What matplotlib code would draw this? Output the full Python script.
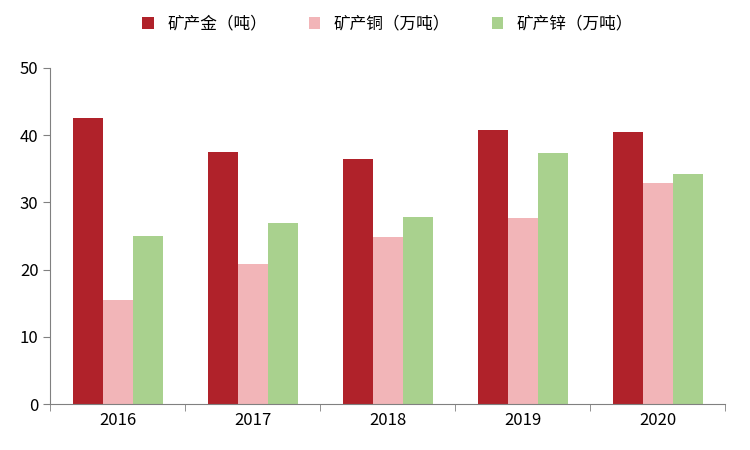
import matplotlib.pyplot as plt
import numpy as np

plt.rcParams["font.family"] = ["Noto Sans CJK SC"]

years = ["2016", "2017", "2018", "2019", "2020"]
gold = [42.6, 37.5, 36.5, 40.8, 40.5]
copper = [15.5, 20.8, 24.9, 27.7, 32.9]
zinc = [25.0, 26.9, 27.8, 37.4, 34.2]
labels = ["矿产金（吨）", "矿产铜（万吨）", "矿产锌（万吨）"]
colors = ["#B0222A", "#F2B5B8", "#A9D18E"]

fig, ax = plt.subplots(figsize=(7.5, 4.5), dpi=100)
fig.subplots_adjust(left=0.067, right=0.967, top=0.849, bottom=0.102)

x = np.arange(len(years))
w = 0.222
for i, (vals, lab, c) in enumerate(zip([gold, copper, zinc], labels, colors)):
    ax.bar(x + (i - 1) * w, vals, w, color=c, label=lab)

ax.set_xlim(-0.5, len(years) - 0.5)
ax.set_ylim(0, 50)
ax.set_yticks(range(0, 51, 10))
ax.set_xticks(x)
ax.set_xticklabels(years)
ax.set_xticks(np.arange(-0.5, len(years), 1), minor=True)
ax.tick_params(axis="x", which="major", length=0, pad=6)
ax.tick_params(axis="x", which="minor", length=5, color="#808080")
ax.tick_params(axis="y", length=5, color="#808080", direction="out")
ax.tick_params(labelsize=12)
for s in ["top", "right"]:
    ax.spines[s].set_visible(False)
for s in ["left", "bottom"]:
    ax.spines[s].set_color("#808080")

ax.legend(loc="upper center", bbox_to_anchor=(0.5, 1.2), ncol=3, frameon=False,
          fontsize=12, handlelength=0.7, handleheight=0.7, columnspacing=2.5)

fig.savefig("out.png")
